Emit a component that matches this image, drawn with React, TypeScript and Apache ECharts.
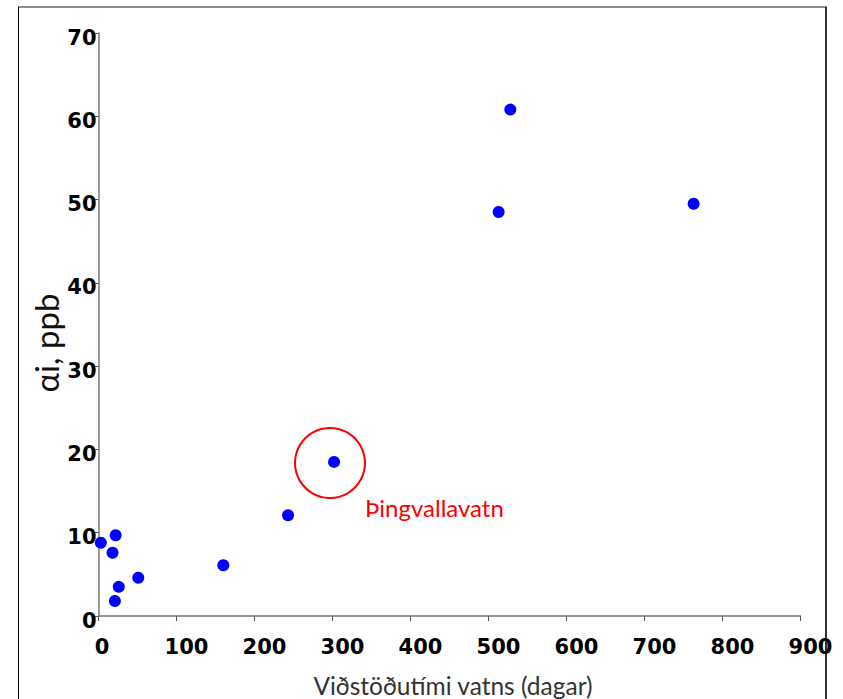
import React, { useEffect, useRef } from "react";
import * as echarts from "echarts";

const residenceDays = [3, 22, 18, 51, 26, 21, 160, 243, 302, 513, 528, 763];
const aluminiumPpb = [8.8, 9.7, 7.6, 4.6, 3.5, 1.8, 6.1, 12.1, 18.5, 48.5, 60.8, 49.5];
const xTicks = { min: 0, max: 900, interval: 100 };
const yTicks = { min: 0, max: 70, interval: 10 };
const xTitle = "Viðstöðutími vatns (dagar)";
const yTitle = "αi, ppb";
const lakeLabel = "Þingvallavatn";

export default function App() {
  const ref = useRef<HTMLDivElement>(null);
  useEffect(() => {
    if (!ref.current) return;
    const chart = echarts.init(ref.current, null, { renderer: "svg" });
    const points = residenceDays.map((d, i) => [d, aluminiumPpb[i]]);
    const tickFont = {
      color: "#000",
      fontFamily: "DejaVu Sans",
      fontWeight: "bold",
      fontSize: 21,
    };
    chart.setOption({
      animation: false,
      backgroundColor: "#ffffff",
      grid: { left: 98.5, right: 42.5, top: 33, bottom: 83 },
      xAxis: {
        type: "value",
        min: xTicks.min,
        max: xTicks.max,
        interval: xTicks.interval,
        axisLine: { show: true, lineStyle: { color: "#777", width: 1.5 } },
        axisTick: { show: true, inside: false, length: 5, lineStyle: { color: "#555" } },
        splitLine: { show: false },
        axisLabel: {
          ...tickFont,
          margin: 20,
          formatter: (v: number) => (v === 0 ? `{z|${v}}` : `{n|${v}}`),
          rich: {
            z: { ...tickFont, padding: [0, 0, 0, 7] },
            n: { ...tickFont, padding: [0, 0, 0, 20] },
          },
        },
      },
      yAxis: {
        type: "value",
        min: yTicks.min,
        max: yTicks.max,
        interval: yTicks.interval,
        axisLine: { show: true, lineStyle: { color: "#777", width: 1.5 } },
        axisTick: { show: true, inside: false, length: 4, lineStyle: { color: "#555" } },
        splitLine: { show: false },
        axisLabel: {
          ...tickFont,
          margin: 2,
          formatter: (v: number) => `{y|${v}}`,
          rich: {
            y: { ...tickFont, padding: [9, 0, 0, 0] },
          },
        },
      },
      series: [
        {
          type: "scatter",
          data: points,
          symbol: "circle",
          symbolSize: 12,
          itemStyle: { color: "#0000ff", opacity: 1 },
        },
      ],
      graphic: [
        { type: "line", shape: { x1: 18, y1: 7, x2: 827, y2: 7 }, style: { stroke: "#666", lineWidth: 1.5 } },
        { type: "line", shape: { x1: 18.5, y1: 7, x2: 18.5, y2: 699 }, style: { stroke: "#000", lineWidth: 1 } },
        { type: "line", shape: { x1: 826, y1: 7, x2: 826, y2: 699 }, style: { stroke: "#333", lineWidth: 2 } },
        {
          type: "text",
          x: 46,
          y: 343,
          rotation: Math.PI / 2,
          style: {
            text: yTitle,
            fill: "#111",
            fontFamily: "Lato",
            fontWeight: "normal",
            fontSize: 33,
            textAlign: "center",
            textVerticalAlign: "middle",
          },
        },
        {
          type: "text",
          x: 453,
          y: 685,
          style: {
            text: xTitle,
            fill: "#333",
            fontFamily: "Lato",
            fontSize: 24.5,
            textAlign: "center",
            textVerticalAlign: "middle",
          },
        },
        {
          type: "circle",
          shape: { cx: 330, cy: 463, r: 35 },
          style: { fill: "none", stroke: "#ff0000", lineWidth: 2 },
        },
        {
          type: "text",
          x: 365,
          y: 507,
          style: {
            text: lakeLabel,
            fill: "#ff0000",
            fontFamily: "Lato",
            fontSize: 24,
            textAlign: "left",
            textVerticalAlign: "middle",
          },
        },
      ],
    });
    return () => chart.dispose();
  }, []);
  return (
    <div
      ref={ref}
      style={{ position: "absolute", left: 0, top: 0, width: 843, height: 699 }}
    />
  );
}
